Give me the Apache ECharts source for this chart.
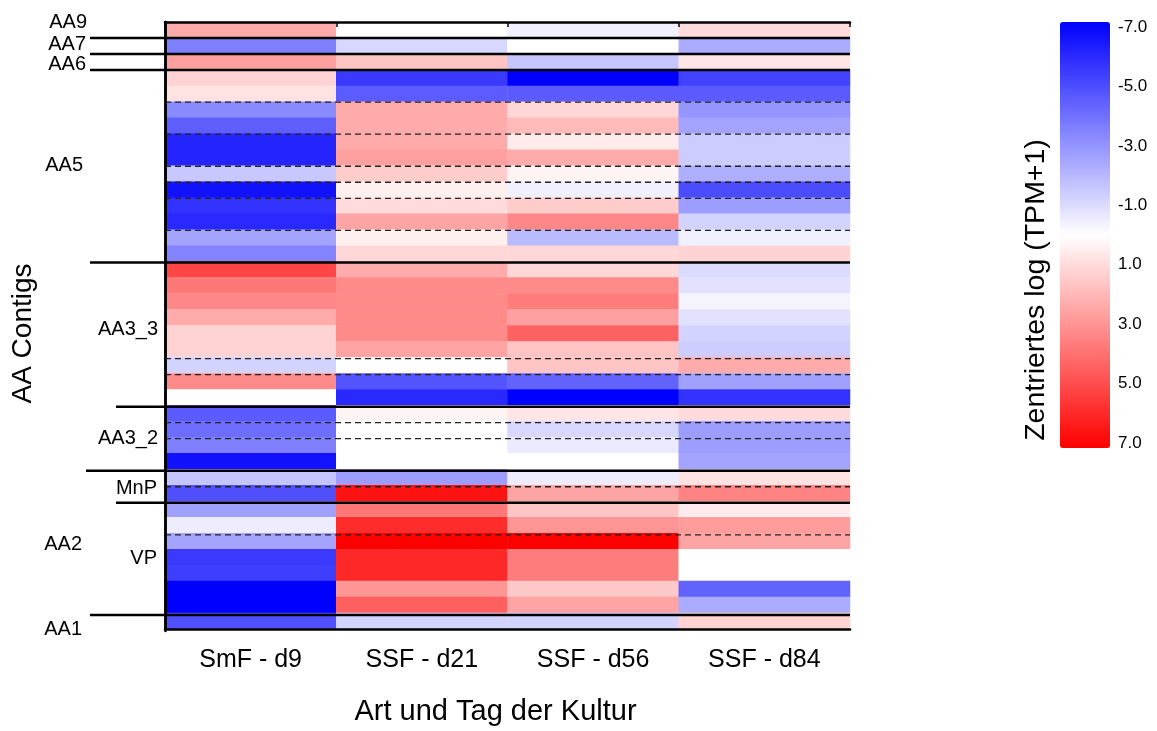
<!DOCTYPE html>
<html>
<head>
<meta charset="utf-8">
<script src="https://cdn.jsdelivr.net/npm/echarts@6/dist/echarts.min.js"></script>
<style>
  html, body { margin: 0; padding: 0; background: #fff; }
  #chart { width: 1157px; height: 731px; }
</style>
</head>
<body>
<div id="chart"></div>
<script>
// Culture type and day (columns)
const columns = ['SmF - d9', 'SSF - d21', 'SSF - d56', 'SSF - d84'];

// One row per contig, top to bottom
const contigRows = [
  'AA9', 'AA7', 'AA6',
  'AA5-1', 'AA5-2', 'AA5-3', 'AA5-4', 'AA5-5', 'AA5-6', 'AA5-7', 'AA5-8', 'AA5-9', 'AA5-10', 'AA5-11', 'AA5-12',
  'AA3_3-1', 'AA3_3-2', 'AA3_3-3', 'AA3_3-4', 'AA3_3-5', 'AA3_3-6', 'AA3_3-7', 'AA3_3-8', 'AA3_3-9',
  'AA3_2-1', 'AA3_2-2', 'AA3_2-3', 'AA3_2-4',
  'MnP-1', 'MnP-2',
  'VP-1', 'VP-2', 'VP-3', 'VP-4', 'VP-5', 'VP-6', 'VP-7',
  'AA1'
];

// Centred log(TPM+1), one array per column, in row order
const smfD9 = [2.3, -3.5, 2.6, 1.2, 0.8, -3.2, -4.4, -6.0, -6.0, -1.5, -6.5, -5.6, -5.9, -2.5, -3.4,
  5.1, 3.7, 3.3, 2.3, 1.2, 1.2, -1.2, 3.2, 0.0,
  -4.5, -4.0, -3.5, -6.5,
  -1.6, -4.8,
  -2.6, -0.5, -2.5, -5.4, -5.3, -7.0, -7.0,
  -4.8];
const ssfD21 = [0.0, -1.1, 1.6, -5.4, -4.5, 2.3, 2.3, 2.3, 2.6, 1.4, 0.4, 1.0, 2.5, 0.4, 1.1,
  2.3, 3.2, 3.2, 3.2, 3.2, 2.5, 0.0, -4.7, -5.9,
  0.3, 0.0, 0.0, 0.0,
  -2.7, 6.5,
  3.7, 5.8, 7.0, 5.9, 5.9, 2.9, 4.4,
  -1.2];
const ssfD56 = [-0.4, 0.0, -1.6, -7.0, -4.5, 1.1, 1.9, 0.55, 2.3, 0.3, -0.4, 1.4, 3.3, -1.9, 1.1,
  1.1, 3.2, 3.6, 2.6, 4.3, 1.6, 1.6, -4.3, -7.0,
  0.7, -1.1, -0.55, 0.0,
  -0.5, 2.5,
  1.6, 2.9, 7.0, 3.6, 3.6, 1.5, 2.5,
  -1.2];
const ssfD84 = [1.0, -2.3, 0.7, -5.2, -4.5, -2.9, -2.5, -1.4, -1.4, -2.2, -4.9, -2.7, -1.2, -0.4, 1.2,
  -1.0, -0.8, -0.3, -0.8, -1.2, -1.4, 2.3, -2.6, -5.6,
  1.0, -2.7, -2.7, -2.5,
  0.8, 3.4,
  0.55, 2.7, 2.5, 0.0, 0.0, -4.3, -2.3,
  1.2];

// Contig groups: first and last row index of each labelled block
const groupLabels = [
  { name: 'AA9', first: 0, last: 0 },
  { name: 'AA7', first: 1, last: 1 },
  { name: 'AA6', first: 2, last: 2 },
  { name: 'AA5', first: 3, last: 14 },
  { name: 'AA3_3', first: 15, last: 23 },
  { name: 'AA3_2', first: 24, last: 27 },
  { name: 'MnP', first: 28, last: 29 },
  { name: 'AA2', first: 28, last: 36 },
  { name: 'VP', first: 30, last: 36 },
  { name: 'AA1', first: 37, last: 37 }
];

// Row boundaries (index of the row below the line)
const solidBounds = [1, 2, 3, 15, 24, 28, 30, 37];
const dashedBounds = [5, 7, 9, 10, 11, 13, 21, 22, 25, 26, 29, 32];

// Colour scale ticks
const scaleMin = -7;
const scaleMax = 7;
const scaleStep = 2;

// ---- layout and styling ----
const FONT = '"Liberation Sans", Arial, sans-serif';
const GRID = { left: 165, top: 22, width: 685, height: 609 };

// left end (px) of each solid group separator
const lineReach = { 1: 90, 2: 90, 3: 90, 15: 90, 24: 116, 28: 86, 30: 116, 37: 90 };
// right edge (px) and vertical nudge of each group label
const labelLayout = {
  'AA9': { right: 87, dy: -8 },
  'AA7': { right: 86, dy: -2 },
  'AA6': { right: 86, dy: 2 },
  'AA5': { right: 83, dy: -1 },
  'AA3_3': { right: 158, dy: -5 },
  'AA3_2': { right: 158, dy: 0 },
  'MnP': { right: 157, dy: 2 },
  'AA2': { right: 82, dy: 2 },
  'VP': { right: 157, dy: 0 },
  'AA1': { right: 82, dy: 6 }
};

const valueColumns = [smfD9, ssfD21, ssfD56, ssfD84];
const cells = [];
valueColumns.forEach((col, x) => col.forEach((v, y) => cells.push([x, y, v])));

const chart = echarts.init(document.getElementById('chart'), null, { renderer: 'canvas' });

const option = {
  animation: false,
  backgroundColor: '#ffffff',
  textStyle: { fontFamily: FONT, color: '#000' },
  grid: [
    Object.assign({}, GRID),
    Object.assign({}, GRID),
    { left: 1060, top: 27, width: 50, height: 416 }
  ],
  xAxis: [
    {
      type: 'category', gridIndex: 0, data: columns, position: 'bottom', z: 6,
      axisLine: { lineStyle: { color: '#000', width: 2.5 } },
      axisTick: { alignWithLabel: true, length: 12, lineStyle: { color: '#000', width: 2 } },
      axisLabel: { fontSize: 25, color: '#000', margin: 19, fontFamily: FONT },
      splitLine: { show: false },
      name: 'Art und Tag der Kultur', nameLocation: 'middle', nameGap: 68,
      nameTextStyle: { fontSize: 29, color: '#000', fontFamily: FONT, padding: [0, 24, 0, 0] }
    },
    {
      type: 'value', gridIndex: 1, min: 0, max: 4, interval: 1, position: 'bottom', z: 6,
      axisLine: { show: false },
      axisTick: { show: true, length: 5, lineStyle: { color: '#000', width: 1.5 } },
      axisLabel: { show: false }, splitLine: { show: false }
    },
    {
      type: 'value', gridIndex: 1, min: 0, max: 4, position: 'top', z: 6,
      axisLine: { show: true, lineStyle: { color: '#000', width: 2.5 } },
      axisTick: { show: false }, axisLabel: { show: false }, splitLine: { show: false }
    },
    { type: 'value', gridIndex: 2, min: 0, max: 1, show: false }
  ],
  yAxis: [
    {
      type: 'category', gridIndex: 0, data: contigRows, inverse: true, z: 6,
      axisLine: { lineStyle: { color: '#000', width: 2.5 } },
      axisTick: { show: false }, axisLabel: { show: false }, splitLine: { show: false },
      name: 'AA Contigs', nameLocation: 'middle', nameGap: 128,
      nameTextStyle: { fontSize: 28, color: '#000', fontFamily: FONT, padding: [0, 16, 0, 0] }
    },
    {
      type: 'value', gridIndex: 1, min: 0, max: contigRows.length, inverse: true, position: 'right', z: 6,
      axisLine: { show: true, lineStyle: { color: '#000', width: 2.5 } },
      axisTick: { show: false }, axisLabel: { show: false }, splitLine: { show: false }
    },
    {
      type: 'value', gridIndex: 2, min: scaleMin, max: scaleMax, interval: scaleStep, inverse: true, position: 'right',
      axisLine: { show: false }, axisTick: { show: false }, splitLine: { show: false },
      axisLabel: { fontSize: 17, color: '#000', margin: 8, fontFamily: FONT, formatter: v => v.toFixed(1) }
    }
  ],
  visualMap: {
    type: 'continuous', seriesIndex: 0, min: scaleMin, max: scaleMax,
    inverse: true, orient: 'vertical', left: 1060, top: 22, padding: 0,
    itemWidth: 50, itemHeight: 426, calculable: false, hoverLink: false,
    inRange: { color: ['#0000ff', '#ffffff', '#ff0000'] }
  },
  graphic: {
    elements: [{
      type: 'text', x: 1036, y: 290, rotation: Math.PI / 2, silent: true,
      style: {
        text: 'Zentriertes log (TPM+1)', fontSize: 28.5, fontFamily: FONT, fill: '#000',
        align: 'center', verticalAlign: 'middle'
      }
    }]
  },
  series: [
    {
      type: 'heatmap', xAxisIndex: 0, yAxisIndex: 0, data: cells,
      itemStyle: { borderWidth: 0 }, emphasis: { disabled: true }, silent: true
    },
    {
      // dashed sub-group separators inside the plot
      type: 'custom', xAxisIndex: 1, yAxisIndex: 1, z: 5, silent: true, clip: false,
      data: dashedBounds.map(b => [0, b]),
      renderItem: (params, api) => {
        const b = api.value(1);
        const p0 = api.coord([0, b]);
        const p1 = api.coord([4, b]);
        return {
          type: 'line',
          shape: { x1: p0[0], y1: p0[1], x2: p1[0], y2: p1[1] },
          style: { stroke: '#222', lineWidth: 1.3, lineDash: [6, 4] }
        };
      }
    },
    {
      // solid group separators reaching into the label column
      type: 'custom', xAxisIndex: 1, yAxisIndex: 1, z: 6, silent: true, clip: false,
      data: solidBounds.map(b => [0, b]),
      renderItem: (params, api) => {
        const b = api.value(1);
        const p1 = api.coord([4, b]);
        return {
          type: 'line',
          shape: { x1: lineReach[b], y1: p1[1], x2: p1[0], y2: p1[1] },
          style: { stroke: '#000', lineWidth: 2.5 }
        };
      }
    },
    {
      // group names
      type: 'custom', xAxisIndex: 1, yAxisIndex: 1, z: 6, silent: true, clip: false,
      data: groupLabels.map(g => ({ name: g.name, value: [0, (g.first + g.last + 1) / 2] })),
      renderItem: (params, api) => {
        const g = groupLabels[params.dataIndex];
        const lay = labelLayout[g.name];
        const p = api.coord([0, api.value(1)]);
        return {
          type: 'text',
          x: lay.right, y: p[1] + lay.dy,
          style: {
            text: g.name, fontSize: 20, fontFamily: FONT, fill: '#000',
            align: 'right', verticalAlign: 'middle'
          }
        };
      }
    }
  ]
};

chart.setOption(option);
</script>
</body>
</html>
